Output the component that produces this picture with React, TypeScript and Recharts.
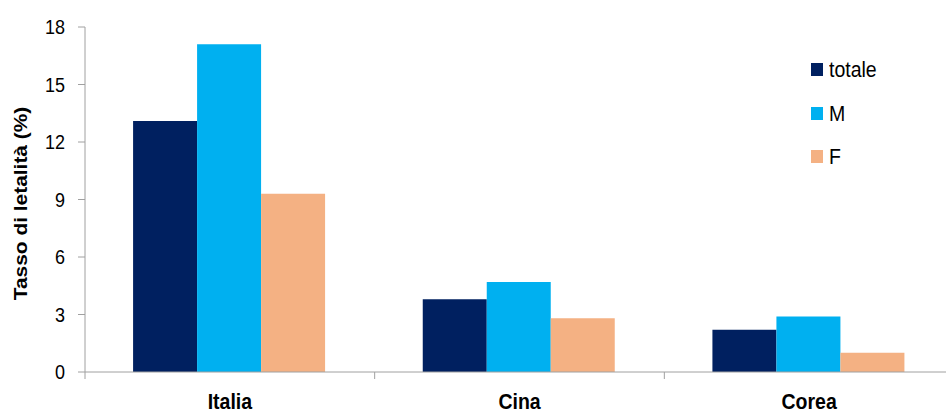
import { Bar, BarChart, XAxis, YAxis } from 'recharts'

const categories = ['Italia', 'Cina', 'Corea']
const totale = [13.1, 3.8, 2.2]
const maschi = [17.1, 4.7, 2.9]
const femmine = [9.3, 2.8, 1.0]
const yTicks = [0, 3, 6, 9, 12, 15, 18]

const series = [
  { key: 'totale', name: 'totale', color: '#002060' },
  { key: 'M', name: 'M', color: '#00B0F0' },
  { key: 'F', name: 'F', color: '#F4B183' },
]

const data = categories.map((name, i) => ({
  name,
  totale: totale[i],
  M: maschi[i],
  F: femmine[i],
}))

const FONT = '"Liberation Sans", Arial, sans-serif'
const AXIS = '#a0a0a0'
// the source picture is stretched vertically a little, text included
const STRETCH = 1.15

const CHART_W = 955
const CHART_H = 412
const Y_W = 85
const RIGHT = 1
const band = (CHART_W - Y_W - RIGHT) / categories.length

function XTick(props: any) {
  const { x, y, payload } = props
  const left = x - band / 2
  return (
    <g>
      <line x1={left} y1={y - 8} x2={left} y2={y - 1} stroke={AXIS} />
      <g transform={`translate(${x} ${y + 29}) scale(1 ${STRETCH})`}>
        <text x={0} y={0} textAnchor="middle" fontFamily={FONT} fontWeight="bold" fontSize={19.5} fill="#000">
          {payload.value}
        </text>
      </g>
    </g>
  )
}

function YTick(props: any) {
  const { x, y, payload } = props
  return (
    <g transform={`translate(${x - 4} ${y}) scale(1 ${STRETCH})`}>
      <text x={0} y={0} textAnchor="end" dominantBaseline="central" fontFamily={FONT} fontSize={18} fill="#000">
        {payload.value}
      </text>
    </g>
  )
}

function YLabel(props: any) {
  const { viewBox } = props
  const cx = 20
  const cy = viewBox.y + viewBox.height / 2 + 4
  return (
    <g transform={`translate(${cx} ${cy}) rotate(-90) scale(1.1 1)`}>
      <text x={0} y={0} textAnchor="middle" dominantBaseline="central" fontFamily={FONT} fontWeight="bold" fontSize={19} fill="#000">
        Tasso di letalità (%)
      </text>
    </g>
  )
}

function LegendBox() {
  return (
    <div style={{ position: 'absolute', left: 811, top: 48, fontFamily: FONT, fontSize: 19.5, color: '#000' }}>
      {series.map((s) => (
        <div key={s.key} style={{ display: 'flex', alignItems: 'center', height: 43.5 }}>
          <span style={{ display: 'inline-block', width: 12, height: 13, background: s.color, marginRight: 6 }} />
          <span style={{ display: 'inline-block', transform: `scaleY(${STRETCH})` }}>{s.name}</span>
        </div>
      ))}
    </div>
  )
}

export default function App() {
  return (
    <div style={{ position: 'absolute', left: 0, top: 0, width: 946, height: 412, overflow: 'hidden', background: '#fff' }}>
      <BarChart
        width={CHART_W}
        height={CHART_H}
        data={data}
        margin={{ top: 27, right: RIGHT, bottom: 0, left: 0 }}
        barCategoryGap="16.6%"
        barGap={0}
      >
        <XAxis dataKey="name" height={40} stroke={AXIS} tickLine={false} tick={<XTick />} interval={0} />
        <YAxis
          width={Y_W}
          domain={[0, 18]}
          ticks={yTicks}
          stroke={AXIS}
          tickSize={7}
          tickMargin={9}
          tick={<YTick />}
          label={<YLabel />}
        />
        {series.map((s) => (
          <Bar key={s.key} dataKey={s.key} name={s.name} fill={s.color} isAnimationActive={false} />
        ))}
      </BarChart>
      <LegendBox />
    </div>
  )
}
